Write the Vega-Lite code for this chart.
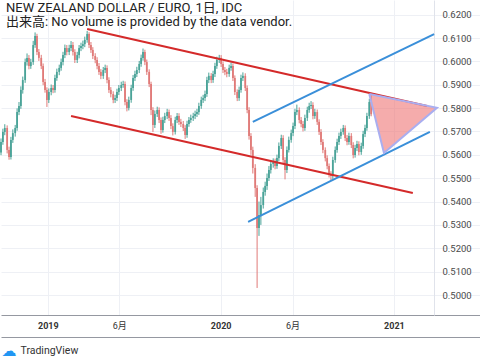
{
"$schema": "https://vega.github.io/schema/vega-lite/v6.json",
"width": 480, "height": 315, "padding": 0,
"title": {"text": "NEW ZEALAND DOLLAR / EURO, 1日, IDC", "subtitle": "出来高: No volume is provided by the data vendor.", "anchor": "start", "frame": "group", "orient": "top", "offset": -29, "dx": 5, "font": "Roboto, Noto Sans CJK JP, sans-serif", "fontSize": 13, "fontWeight": "normal", "color": "#222222", "subtitleFont": "Roboto, Noto Sans CJK JP, sans-serif", "subtitleFontSize": 13, "subtitleColor": "#222222", "subtitlePadding": 1},
"config": {"view": {"stroke": null}, "font": "Roboto, Noto Sans CJK JP, sans-serif"},
"resolve": {"axis": {"x": "independent", "y": "independent"}},
"datasets": {
"candles": [
{"t":"2018-09-24","o":0.5610,"h":0.5670,"l":0.5598,"c":0.5655},
{"t":"2018-09-28","o":0.5655,"h":0.5712,"l":0.5643,"c":0.5698},
{"t":"2018-10-02","o":0.5698,"h":0.5731,"l":0.5684,"c":0.5715},
{"t":"2018-10-07","o":0.5715,"h":0.5726,"l":0.5606,"c":0.5621},
{"t":"2018-10-11","o":0.5621,"h":0.5635,"l":0.5579,"c":0.5591},
{"t":"2018-10-15","o":0.5591,"h":0.5677,"l":0.5580,"c":0.5664},
{"t":"2018-10-19","o":0.5664,"h":0.5709,"l":0.5651,"c":0.5693},
{"t":"2018-10-24","o":0.5693,"h":0.5728,"l":0.5678,"c":0.5715},
{"t":"2018-10-28","o":0.5715,"h":0.5799,"l":0.5703,"c":0.5783},
{"t":"2018-11-01","o":0.5783,"h":0.5826,"l":0.5770,"c":0.5809},
{"t":"2018-11-05","o":0.5809,"h":0.5893,"l":0.5797,"c":0.5878},
{"t":"2018-11-09","o":0.5878,"h":0.5935,"l":0.5862,"c":0.5920},
{"t":"2018-11-14","o":0.5920,"h":0.6012,"l":0.5908,"c":0.5997},
{"t":"2018-11-18","o":0.5997,"h":0.6034,"l":0.5982,"c":0.6015},
{"t":"2018-11-22","o":0.6015,"h":0.6027,"l":0.5966,"c":0.5980},
{"t":"2018-11-26","o":0.5980,"h":0.6011,"l":0.5968,"c":0.5997},
{"t":"2018-12-01","o":0.5997,"h":0.6088,"l":0.5985,"c":0.6070},
{"t":"2018-12-05","o":0.6070,"h":0.6124,"l":0.6058,"c":0.6109},
{"t":"2018-12-09","o":0.6109,"h":0.6118,"l":0.6027,"c":0.6040},
{"t":"2018-12-13","o":0.6040,"h":0.6053,"l":0.6002,"c":0.6015},
{"t":"2018-12-18","o":0.6015,"h":0.6028,"l":0.5967,"c":0.5980},
{"t":"2018-12-22","o":0.5980,"h":0.5991,"l":0.5898,"c":0.5912},
{"t":"2018-12-26","o":0.5912,"h":0.5925,"l":0.5866,"c":0.5878},
{"t":"2018-12-30","o":0.5878,"h":0.5889,"l":0.5805,"c":0.5835},
{"t":"2019-01-03","o":0.5835,"h":0.5884,"l":0.5822,"c":0.5869},
{"t":"2019-01-08","o":0.5869,"h":0.5901,"l":0.5855,"c":0.5886},
{"t":"2019-01-12","o":0.5886,"h":0.5899,"l":0.5864,"c":0.5878},
{"t":"2019-01-16","o":0.5878,"h":0.5943,"l":0.5866,"c":0.5929},
{"t":"2019-01-20","o":0.5929,"h":0.5969,"l":0.5917,"c":0.5955},
{"t":"2019-01-25","o":0.5955,"h":0.5986,"l":0.5941,"c":0.5972},
{"t":"2019-01-29","o":0.5972,"h":0.6012,"l":0.5960,"c":0.5997},
{"t":"2019-02-02","o":0.5997,"h":0.6041,"l":0.5983,"c":0.6027},
{"t":"2019-02-06","o":0.6027,"h":0.6072,"l":0.6014,"c":0.6057},
{"t":"2019-02-10","o":0.6057,"h":0.6070,"l":0.6026,"c":0.6040},
{"t":"2019-02-15","o":0.6040,"h":0.6071,"l":0.6027,"c":0.6057},
{"t":"2019-02-19","o":0.6057,"h":0.6087,"l":0.6044,"c":0.6070},
{"t":"2019-02-23","o":0.6070,"h":0.6083,"l":0.6025,"c":0.6040},
{"t":"2019-02-27","o":0.6040,"h":0.6052,"l":0.5993,"c":0.6006},
{"t":"2019-03-04","o":0.6006,"h":0.6041,"l":0.5993,"c":0.6027},
{"t":"2019-03-08","o":0.6027,"h":0.6070,"l":0.6013,"c":0.6057},
{"t":"2019-03-12","o":0.6057,"h":0.6080,"l":0.6044,"c":0.6066},
{"t":"2019-03-16","o":0.6066,"h":0.6089,"l":0.6052,"c":0.6074},
{"t":"2019-03-20","o":0.6074,"h":0.6106,"l":0.6061,"c":0.6092},
{"t":"2019-03-25","o":0.6092,"h":0.6130,"l":0.6080,"c":0.6117},
{"t":"2019-03-29","o":0.6117,"h":0.6125,"l":0.6057,"c":0.6070},
{"t":"2019-04-02","o":0.6070,"h":0.6083,"l":0.6036,"c":0.6049},
{"t":"2019-04-06","o":0.6049,"h":0.6061,"l":0.6010,"c":0.6023},
{"t":"2019-04-11","o":0.6023,"h":0.6035,"l":0.5992,"c":0.6006},
{"t":"2019-04-15","o":0.6006,"h":0.6018,"l":0.5966,"c":0.5980},
{"t":"2019-04-19","o":0.5980,"h":0.5993,"l":0.5942,"c":0.5955},
{"t":"2019-04-23","o":0.5955,"h":0.5967,"l":0.5924,"c":0.5938},
{"t":"2019-04-28","o":0.5938,"h":0.5976,"l":0.5925,"c":0.5963},
{"t":"2019-05-02","o":0.5963,"h":0.5986,"l":0.5950,"c":0.5972},
{"t":"2019-05-06","o":0.5972,"h":0.5983,"l":0.5906,"c":0.5920},
{"t":"2019-05-10","o":0.5920,"h":0.5932,"l":0.5865,"c":0.5878},
{"t":"2019-05-14","o":0.5878,"h":0.5890,"l":0.5846,"c":0.5860},
{"t":"2019-05-19","o":0.5860,"h":0.5872,"l":0.5821,"c":0.5835},
{"t":"2019-05-23","o":0.5835,"h":0.5857,"l":0.5822,"c":0.5843},
{"t":"2019-05-27","o":0.5843,"h":0.5883,"l":0.5830,"c":0.5869},
{"t":"2019-05-31","o":0.5869,"h":0.5899,"l":0.5856,"c":0.5886},
{"t":"2019-06-05","o":0.5886,"h":0.5913,"l":0.5873,"c":0.5899},
{"t":"2019-06-09","o":0.5899,"h":0.5917,"l":0.5887,"c":0.5903},
{"t":"2019-06-13","o":0.5903,"h":0.5914,"l":0.5812,"c":0.5826},
{"t":"2019-06-17","o":0.5826,"h":0.5838,"l":0.5786,"c":0.5801},
{"t":"2019-06-21","o":0.5801,"h":0.5849,"l":0.5790,"c":0.5835},
{"t":"2019-06-26","o":0.5835,"h":0.5900,"l":0.5823,"c":0.5886},
{"t":"2019-06-30","o":0.5886,"h":0.5942,"l":0.5874,"c":0.5929},
{"t":"2019-07-04","o":0.5929,"h":0.5960,"l":0.5916,"c":0.5946},
{"t":"2019-07-08","o":0.5946,"h":0.5977,"l":0.5933,"c":0.5963},
{"t":"2019-07-13","o":0.5963,"h":0.6002,"l":0.5950,"c":0.5989},
{"t":"2019-07-17","o":0.5989,"h":0.6029,"l":0.5977,"c":0.6015},
{"t":"2019-07-21","o":0.6015,"h":0.6055,"l":0.6003,"c":0.6040},
{"t":"2019-07-25","o":0.6040,"h":0.6050,"l":0.5984,"c":0.5997},
{"t":"2019-07-29","o":0.5997,"h":0.6008,"l":0.5942,"c":0.5955},
{"t":"2019-08-03","o":0.5955,"h":0.5966,"l":0.5890,"c":0.5903},
{"t":"2019-08-07","o":0.5903,"h":0.5913,"l":0.5770,"c":0.5792},
{"t":"2019-08-11","o":0.5792,"h":0.5804,"l":0.5698,"c":0.5728},
{"t":"2019-08-15","o":0.5728,"h":0.5790,"l":0.5715,"c":0.5775},
{"t":"2019-08-20","o":0.5775,"h":0.5806,"l":0.5762,"c":0.5792},
{"t":"2019-08-24","o":0.5792,"h":0.5803,"l":0.5736,"c":0.5749},
{"t":"2019-08-28","o":0.5749,"h":0.5760,"l":0.5690,"c":0.5706},
{"t":"2019-09-01","o":0.5706,"h":0.5763,"l":0.5695,"c":0.5749},
{"t":"2019-09-05","o":0.5749,"h":0.5780,"l":0.5736,"c":0.5766},
{"t":"2019-09-10","o":0.5766,"h":0.5797,"l":0.5753,"c":0.5783},
{"t":"2019-09-14","o":0.5783,"h":0.5794,"l":0.5745,"c":0.5758},
{"t":"2019-09-18","o":0.5758,"h":0.5770,"l":0.5710,"c":0.5723},
{"t":"2019-09-22","o":0.5723,"h":0.5735,"l":0.5683,"c":0.5698},
{"t":"2019-09-27","o":0.5698,"h":0.5763,"l":0.5687,"c":0.5749},
{"t":"2019-10-01","o":0.5749,"h":0.5779,"l":0.5736,"c":0.5766},
{"t":"2019-10-05","o":0.5766,"h":0.5778,"l":0.5728,"c":0.5741},
{"t":"2019-10-09","o":0.5741,"h":0.5754,"l":0.5719,"c":0.5732},
{"t":"2019-10-14","o":0.5732,"h":0.5745,"l":0.5702,"c":0.5715},
{"t":"2019-10-18","o":0.5715,"h":0.5727,"l":0.5668,"c":0.5685},
{"t":"2019-10-22","o":0.5685,"h":0.5746,"l":0.5673,"c":0.5732},
{"t":"2019-10-26","o":0.5732,"h":0.5762,"l":0.5720,"c":0.5749},
{"t":"2019-10-30","o":0.5749,"h":0.5772,"l":0.5737,"c":0.5758},
{"t":"2019-11-04","o":0.5758,"h":0.5780,"l":0.5745,"c":0.5766},
{"t":"2019-11-08","o":0.5766,"h":0.5789,"l":0.5753,"c":0.5775},
{"t":"2019-11-12","o":0.5775,"h":0.5797,"l":0.5762,"c":0.5783},
{"t":"2019-11-16","o":0.5783,"h":0.5823,"l":0.5771,"c":0.5809},
{"t":"2019-11-21","o":0.5809,"h":0.5849,"l":0.5797,"c":0.5835},
{"t":"2019-11-25","o":0.5835,"h":0.5857,"l":0.5822,"c":0.5843},
{"t":"2019-11-29","o":0.5843,"h":0.5875,"l":0.5830,"c":0.5860},
{"t":"2019-12-03","o":0.5860,"h":0.5934,"l":0.5848,"c":0.5920},
{"t":"2019-12-07","o":0.5920,"h":0.5952,"l":0.5907,"c":0.5938},
{"t":"2019-12-12","o":0.5938,"h":0.5950,"l":0.5907,"c":0.5920},
{"t":"2019-12-16","o":0.5920,"h":0.5960,"l":0.5908,"c":0.5946},
{"t":"2019-12-20","o":0.5946,"h":0.5994,"l":0.5933,"c":0.5980},
{"t":"2019-12-24","o":0.5980,"h":0.6020,"l":0.5968,"c":0.6006},
{"t":"2019-12-29","o":0.6006,"h":0.6028,"l":0.5993,"c":0.6015},
{"t":"2020-01-02","o":0.6015,"h":0.6027,"l":0.5976,"c":0.5989},
{"t":"2020-01-06","o":0.5989,"h":0.6000,"l":0.5950,"c":0.5963},
{"t":"2020-01-10","o":0.5963,"h":0.5976,"l":0.5941,"c":0.5955},
{"t":"2020-01-14","o":0.5955,"h":0.5968,"l":0.5932,"c":0.5946},
{"t":"2020-01-19","o":0.5946,"h":0.5986,"l":0.5934,"c":0.5972},
{"t":"2020-01-23","o":0.5972,"h":0.5995,"l":0.5960,"c":0.5980},
{"t":"2020-01-27","o":0.5980,"h":0.5991,"l":0.5916,"c":0.5929},
{"t":"2020-01-31","o":0.5929,"h":0.5940,"l":0.5856,"c":0.5869},
{"t":"2020-02-05","o":0.5869,"h":0.5880,"l":0.5830,"c":0.5843},
{"t":"2020-02-09","o":0.5843,"h":0.5892,"l":0.5831,"c":0.5878},
{"t":"2020-02-13","o":0.5878,"h":0.5943,"l":0.5866,"c":0.5929},
{"t":"2020-02-17","o":0.5929,"h":0.5953,"l":0.5916,"c":0.5938},
{"t":"2020-02-22","o":0.5938,"h":0.5949,"l":0.5873,"c":0.5886},
{"t":"2020-02-26","o":0.5886,"h":0.5897,"l":0.5778,"c":0.5792},
{"t":"2020-03-01","o":0.5792,"h":0.5804,"l":0.5665,"c":0.5681},
{"t":"2020-03-05","o":0.5681,"h":0.5693,"l":0.5600,"c":0.5621},
{"t":"2020-03-09","o":0.5621,"h":0.5635,"l":0.5520,"c":0.5544},
{"t":"2020-03-14","o":0.5544,"h":0.5560,"l":0.5420,"c":0.5458},
{"t":"2020-03-18","o":0.5458,"h":0.5470,"l":0.5030,"c":0.5287},
{"t":"2020-03-22","o":0.5287,"h":0.5400,"l":0.5253,"c":0.5342},
{"t":"2020-03-26","o":0.5342,"h":0.5420,"l":0.5300,"c":0.5385},
{"t":"2020-03-31","o":0.5385,"h":0.5460,"l":0.5370,"c":0.5441},
{"t":"2020-04-04","o":0.5441,"h":0.5485,"l":0.5425,"c":0.5467},
{"t":"2020-04-08","o":0.5467,"h":0.5520,"l":0.5450,"c":0.5501},
{"t":"2020-04-12","o":0.5501,"h":0.5552,"l":0.5488,"c":0.5535},
{"t":"2020-04-16","o":0.5535,"h":0.5578,"l":0.5520,"c":0.5561},
{"t":"2020-04-21","o":0.5561,"h":0.5585,"l":0.5545,"c":0.5569},
{"t":"2020-04-25","o":0.5569,"h":0.5584,"l":0.5538,"c":0.5552},
{"t":"2020-04-29","o":0.5552,"h":0.5601,"l":0.5540,"c":0.5586},
{"t":"2020-05-03","o":0.5586,"h":0.5653,"l":0.5573,"c":0.5638},
{"t":"2020-05-08","o":0.5638,"h":0.5686,"l":0.5625,"c":0.5672},
{"t":"2020-05-12","o":0.5672,"h":0.5684,"l":0.5560,"c":0.5578},
{"t":"2020-05-16","o":0.5578,"h":0.5590,"l":0.5495,"c":0.5535},
{"t":"2020-05-20","o":0.5535,"h":0.5636,"l":0.5522,"c":0.5621},
{"t":"2020-05-24","o":0.5621,"h":0.5678,"l":0.5610,"c":0.5664},
{"t":"2020-05-29","o":0.5664,"h":0.5708,"l":0.5652,"c":0.5693},
{"t":"2020-06-02","o":0.5693,"h":0.5738,"l":0.5680,"c":0.5723},
{"t":"2020-06-06","o":0.5723,"h":0.5797,"l":0.5710,"c":0.5783},
{"t":"2020-06-10","o":0.5783,"h":0.5815,"l":0.5770,"c":0.5792},
{"t":"2020-06-15","o":0.5792,"h":0.5803,"l":0.5735,"c":0.5749},
{"t":"2020-06-19","o":0.5749,"h":0.5762,"l":0.5718,"c":0.5732},
{"t":"2020-06-23","o":0.5732,"h":0.5745,"l":0.5700,"c":0.5715},
{"t":"2020-06-27","o":0.5715,"h":0.5772,"l":0.5703,"c":0.5758},
{"t":"2020-07-02","o":0.5758,"h":0.5806,"l":0.5745,"c":0.5792},
{"t":"2020-07-06","o":0.5792,"h":0.5823,"l":0.5780,"c":0.5809},
{"t":"2020-07-10","o":0.5809,"h":0.5830,"l":0.5796,"c":0.5813},
{"t":"2020-07-14","o":0.5813,"h":0.5825,"l":0.5752,"c":0.5766},
{"t":"2020-07-18","o":0.5766,"h":0.5797,"l":0.5754,"c":0.5783},
{"t":"2020-07-23","o":0.5783,"h":0.5794,"l":0.5728,"c":0.5741},
{"t":"2020-07-27","o":0.5741,"h":0.5752,"l":0.5685,"c":0.5698},
{"t":"2020-07-31","o":0.5698,"h":0.5710,"l":0.5642,"c":0.5655},
{"t":"2020-08-04","o":0.5655,"h":0.5667,"l":0.5607,"c":0.5621},
{"t":"2020-08-09","o":0.5621,"h":0.5632,"l":0.5572,"c":0.5586},
{"t":"2020-08-13","o":0.5586,"h":0.5598,"l":0.5538,"c":0.5552},
{"t":"2020-08-17","o":0.5552,"h":0.5563,"l":0.5503,"c":0.5518},
{"t":"2020-08-21","o":0.5518,"h":0.5530,"l":0.5490,"c":0.5509},
{"t":"2020-08-25","o":0.5509,"h":0.5592,"l":0.5497,"c":0.5578},
{"t":"2020-08-30","o":0.5578,"h":0.5636,"l":0.5566,"c":0.5621},
{"t":"2020-09-03","o":0.5621,"h":0.5669,"l":0.5609,"c":0.5655},
{"t":"2020-09-07","o":0.5655,"h":0.5695,"l":0.5642,"c":0.5681},
{"t":"2020-09-11","o":0.5681,"h":0.5712,"l":0.5668,"c":0.5698},
{"t":"2020-09-16","o":0.5698,"h":0.5728,"l":0.5686,"c":0.5715},
{"t":"2020-09-20","o":0.5715,"h":0.5726,"l":0.5659,"c":0.5672},
{"t":"2020-09-24","o":0.5672,"h":0.5685,"l":0.5641,"c":0.5655},
{"t":"2020-09-28","o":0.5655,"h":0.5695,"l":0.5643,"c":0.5681},
{"t":"2020-10-03","o":0.5681,"h":0.5693,"l":0.5629,"c":0.5642},
{"t":"2020-10-07","o":0.5642,"h":0.5654,"l":0.5585,"c":0.5599},
{"t":"2020-10-11","o":0.5599,"h":0.5643,"l":0.5588,"c":0.5629},
{"t":"2020-10-15","o":0.5629,"h":0.5660,"l":0.5616,"c":0.5646},
{"t":"2020-10-19","o":0.5646,"h":0.5658,"l":0.5598,"c":0.5612},
{"t":"2020-10-24","o":0.5612,"h":0.5652,"l":0.5600,"c":0.5638},
{"t":"2020-10-28","o":0.5638,"h":0.5703,"l":0.5626,"c":0.5689},
{"t":"2020-11-01","o":0.5689,"h":0.5729,"l":0.5676,"c":0.5715},
{"t":"2020-11-05","o":0.5715,"h":0.5780,"l":0.5703,"c":0.5766},
{"t":"2020-11-10","o":0.5766,"h":0.5840,"l":0.5754,"c":0.5826},
{"t":"2020-11-14","o":0.5826,"h":0.5865,"l":0.5765,"c":0.5774}
],
"lines": [
{"id":"resistance","t":"2019-03-25","p":0.6139},
{"id":"resistance","t":"2021-03-12","p":0.5809},
{"id":"support","t":"2019-02-19","p":0.5766},
{"id":"support","t":"2021-02-10","p":0.5437},
{"id":"channel top","t":"2020-03-09","p":0.5741},
{"id":"channel top","t":"2021-03-27","p":0.6117},
{"id":"channel bottom","t":"2020-02-28","p":0.5313},
{"id":"channel bottom","t":"2021-03-18","p":0.5698}
],
"tri": [
{"t":"2020-11-10","top":0.5860,"bot":0.5860},
{"t":"2020-12-11","top":0.5847,"bot":0.5608},
{"t":"2021-04-02","top":0.5801,"bot":0.5801}
],
"edge": [
{"i":0,"t":"2020-11-10","p":0.5860},
{"i":1,"t":"2020-12-11","p":0.5608},
{"i":2,"t":"2021-04-02","p":0.5801},
{"i":3,"t":"2020-11-10","p":0.5860}
]
},
"encoding": {
"x": {"field": "t", "type": "temporal", "axis": null, "scale": {"type": "utc", "nice": false, "domain": [{"year":2018,"month":9,"date":24,"utc":true},{"year":2021,"month":7,"date":4,"utc":true}]}}
},
"layer": [
{
"data": {"name": "candles"},
"mark": {"type": "rule", "strokeWidth": 1},
"encoding": {
"x": {"field": "t", "type": "temporal", "scale": {"type": "utc", "nice": false, "domain": [{"year":2018,"month":9,"date":24,"utc":true},{"year":2021,"month":7,"date":4,"utc":true}]},
 "axis": {"orient": "bottom", "values": [{"year":2019,"month":1,"date":1,"utc":true},{"year":2019,"month":6,"date":1,"utc":true},{"year":2020,"month":1,"date":1,"utc":true},{"year":2020,"month":6,"date":1,"utc":true},{"year":2021,"month":1,"date":1,"utc":true}],
  "labelExpr": "utcmonth(datum.value) == 0 ? utcFormat(datum.value, '%Y') : (utcmonth(datum.value) + 1) + '月'",
  "labelFontWeight": {"condition": {"test": "utcmonth(datum.value) == 0", "value": "bold"}, "value": "normal"},
  "labelFontSize": 9, "labelColor": "#333333", "labelPadding": 6, "ticks": false, "domainColor": "#9598a1", "grid": true, "gridColor": "#eef0f5", "labelFlush": false,
  "title": "☁", "titleFont": "DejaVu Sans", "titleFontSize": 15, "titleColor": "#2196f3", "titleFontWeight": "normal", "titleX": 0, "titleY": 35, "titleAlign": "left", "titleBaseline": "middle"}},
"y": {"field": "l", "type": "quantitative", "scale": {"domain": [0.49144, 0.62628], "nice": false, "zero": false},
 "axis": {"orient": "right", "offset": -47, "values": [0.50,0.51,0.52,0.53,0.54,0.55,0.56,0.57,0.58,0.59,0.60,0.61,0.62], "format": ".4f", "labelFontSize": 9.5, "labelColor": "#4a4a4a", "labelPadding": 8, "ticks": false, "domainColor": "#e0e3eb", "grid": true, "gridColor": "#eef0f5", "title": null}},
"y2": {"field": "h"},
"color": {"condition": {"test": "datum.c >= datum.o", "value": "#4aa398"}, "value": "#e07a78"}
}
},
{
"data": {"name": "candles"},
"mark": {"type": "rule", "strokeWidth": 1.8},
"encoding": {
"x": {"field": "t", "type": "temporal", "scale": {"type": "utc", "nice": false, "domain": [{"year":2018,"month":9,"date":24,"utc":true},{"year":2021,"month":7,"date":4,"utc":true}]},
 "axis": {"orient": "bottom", "offset": 22, "labels": false, "ticks": false, "grid": false, "domainColor": "#9598a1", "title": "TradingView", "titleFontSize": 10.5, "titleColor": "#333333", "titleFontWeight": "normal", "titleX": 19, "titleY": 13, "titleAlign": "left", "titleBaseline": "middle"}},
"y": {"field": "o", "type": "quantitative", "axis": null, "scale": {"domain": [0.49144, 0.62628], "nice": false, "zero": false}},
"y2": {"field": "c"},
"color": {"condition": {"test": "datum.c >= datum.o", "value": "#4aa398"}, "value": "#e07a78"}
}
},
{
"data": {"values": [{}]},
"mark": {"type": "rule", "color": "#ef5350", "strokeDash": [1, 2], "strokeWidth": 1, "opacity": 0.7},
"encoding": {
"x": {"datum": {"year":2018,"month":9,"date":24,"utc":true}, "type": "temporal", "axis": null},
"x2": {"datum": {"year":2021,"month":3,"date":27,"utc":true}},
"y": {"datum": 0.5774, "type": "quantitative", "axis": null}
}
},
{
"data": {"name": "lines"},
"mark": {"type": "line", "strokeWidth": 2},
"encoding": {
"y": {"field": "p", "type": "quantitative", "axis": null, "scale": {"domain": [0.49144, 0.62628], "nice": false, "zero": false}},
"color": {"field": "id", "type": "nominal", "legend": null, "scale": {"domain": ["resistance","support","channel top","channel bottom"], "range": ["#d42a2a","#d42a2a","#3a8fd9","#3a8fd9"]}}
}
},
{
"data": {"name": "tri"},
"mark": {"type": "area", "color": "#ef7575", "opacity": 0.6},
"encoding": {
"y": {"field": "top", "type": "quantitative", "axis": null, "scale": {"domain": [0.49144, 0.62628], "nice": false, "zero": false}},
"y2": {"field": "bot"}
}
},
{
"data": {"name": "edge"},
"mark": {"type": "line", "color": "#a9aef0", "strokeWidth": 2},
"encoding": {
"y": {"field": "p", "type": "quantitative", "axis": null, "scale": {"domain": [0.49144, 0.62628], "nice": false, "zero": false}},
"order": {"field": "i", "type": "quantitative"}
}
},
{
"data": {"values": [{}]},
"mark": {"type": "rect", "color": "#ef5350"},
"encoding": {
"x": {"datum": {"year":2021,"month":3,"date":27,"utc":true}, "type": "temporal", "axis": null},
"x2": {"datum": {"year":2021,"month":6,"date":17,"utc":true}},
"y": {"datum": 0.5805, "type": "quantitative", "axis": null},
"y2": {"datum": 0.5753}
}
},
{
"data": {"values": [{}]},
"mark": {"type": "rect", "color": "#ef5350"},
"encoding": {
"x": {"datum": {"year":2021,"month":3,"date":27,"utc":true}, "type": "temporal", "axis": null},
"x2": {"datum": {"year":2021,"month":6,"date":17,"utc":true}},
"y": {"datum": 0.5745, "type": "quantitative", "axis": null},
"y2": {"datum": 0.5700}
}
},
{
"data": {"values": [{}]},
"mark": {"type": "rect", "fill": "#ffffff", "stroke": "#d1d4dc", "strokeWidth": 1, "cornerRadius": 2},
"encoding": {
"x": {"datum": {"year":2021,"month":4,"date":23,"utc":true}, "type": "temporal", "axis": null},
"x2": {"datum": {"year":2021,"month":6,"date":4,"utc":true}},
"y": {"datum": 0.6250, "type": "quantitative", "axis": null},
"y2": {"datum": 0.6194}
}
},
{
"data": {"values": [{}]},
"mark": {"type": "text", "text": "0.5774", "color": "#ffffff", "fontSize": 9.5, "align": "center", "baseline": "middle"},
"encoding": {
"x": {"datum": {"year":2021,"month":5,"date":7,"utc":true}, "type": "temporal", "axis": null},
"y": {"datum": 0.5779, "type": "quantitative", "axis": null}
}
},
{
"data": {"values": [{}]},
"mark": {"type": "text", "text": "15:41:44", "color": "#ffffff", "fontSize": 9.5, "align": "center", "baseline": "middle"},
"encoding": {
"x": {"datum": {"year":2021,"month":5,"date":7,"utc":true}, "type": "temporal", "axis": null},
"y": {"datum": 0.5722, "type": "quantitative", "axis": null}
}
},
{
"data": {"values": [{}]},
"mark": {"type": "text", "text": "EUR", "color": "#4a4a4a", "fontSize": 9, "align": "center", "baseline": "middle"},
"encoding": {
"x": {"datum": {"year":2021,"month":5,"date":14,"utc":true}, "type": "temporal", "axis": null},
"y": {"datum": 0.6222, "type": "quantitative", "axis": null}
}
}
]
}
